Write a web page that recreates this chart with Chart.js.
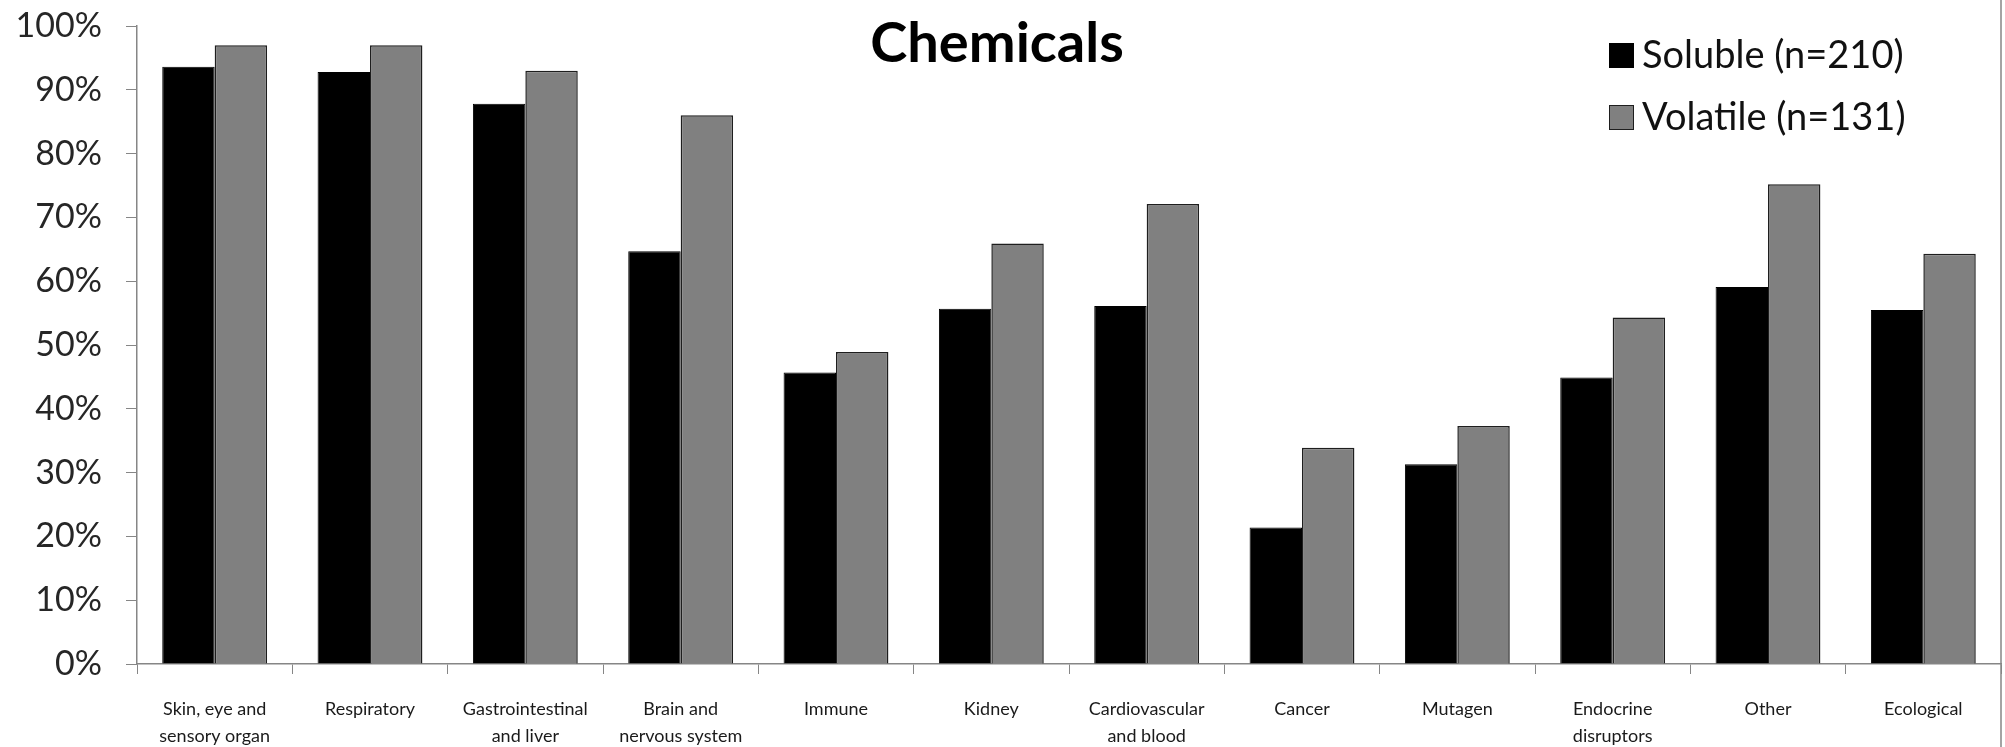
<!DOCTYPE html>
<html lang="en">

<head>
    <meta charset="UTF-8">
    <title>Chemicals</title>
    <style>
        body {
            margin: 0;
            background-color: #ffffff;
        }

        #chemChart {
            display: block;
        }
    </style>
</head>

<body>

    <canvas id="chemChart" width="2005" height="747"></canvas>

    <script src="https://cdn.jsdelivr.net/npm/chart.js"></script>
    <script>
        // Share of chemicals with each kind of health effect (%)
        const categories = [
            ['Skin, eye and', 'sensory organ'],
            'Respiratory',
            ['Gastrointestinal', 'and liver'],
            ['Brain and', 'nervous system'],
            'Immune',
            'Kidney',
            ['Cardiovascular', 'and blood'],
            'Cancer',
            'Mutagen',
            ['Endocrine', 'disruptors'],
            'Other',
            'Ecological'
        ];
        const solubleValues = [93.6, 92.8, 87.8, 64.7, 45.7, 55.7, 56.1, 21.4, 31.3, 44.9, 59.1, 55.5];
        const volatileValues = [97.0, 97.0, 93.0, 86.0, 48.9, 65.9, 72.1, 33.9, 37.3, 54.3, 75.2, 64.3];
        const seriesLabels = ['Soluble (n=210)', 'Volatile (n=131)'];
        const titleText = 'Chemicals';

        const axisColor = '#868686';

        // Title and legend sit inside the plot area, so draw them by hand
        const overlay = {
            id: 'overlay',
            afterDraw(chart) {
                const ctx = chart.ctx;
                ctx.save();

                ctx.font = 'bold 56px Lato';
                ctx.fillStyle = '#000';
                ctx.textAlign = 'center';
                ctx.textBaseline = 'alphabetic';
                ctx.fillText(titleText, 997, 62);

                ctx.font = '38px Lato';
                ctx.textAlign = 'left';
                ctx.textBaseline = 'middle';
                chart.data.datasets.forEach((ds, i) => {
                    const y = 55 + i * 62;
                    ctx.fillStyle = ds.backgroundColor;
                    ctx.fillRect(1609, y - 12, 25, 25);
                    ctx.strokeStyle = ds.borderColor;
                    ctx.lineWidth = 1;
                    ctx.strokeRect(1609.5, y - 11.5, 24, 24);
                    ctx.fillStyle = '#111';
                    ctx.fillText(ds.label, 1642, y + 1);
                });

                // outer frame edge on the right
                ctx.strokeStyle = axisColor;
                ctx.lineWidth = 1.5;
                ctx.beginPath();
                ctx.moveTo(2001, 0);
                ctx.lineTo(2001, chart.height);
                ctx.stroke();

                ctx.restore();
            }
        };

        const ctx = document.getElementById('chemChart').getContext('2d');
        new Chart(ctx, {
            type: 'bar',
            data: {
                labels: categories,
                datasets: [{
                    label: seriesLabels[0],
                    data: solubleValues,
                    backgroundColor: '#000000',
                    borderColor: '#000000',
                    borderWidth: 1
                }, {
                    label: seriesLabels[1],
                    data: volatileValues,
                    backgroundColor: '#808080',
                    borderColor: '#1e1e1e',
                    borderWidth: 1.5
                }]
            },
            options: {
                responsive: false,
                animation: false,
                datasets: {
                    bar: {
                        categoryPercentage: 0.675,
                        barPercentage: 1.0
                    }
                },
                layout: {
                    padding: { top: 26, right: 4, left: 0, bottom: 0 }
                },
                plugins: {
                    legend: { display: false },
                    title: { display: false },
                    tooltip: { enabled: false }
                },
                scales: {
                    x: {
                        grid: {
                            offset: true,
                            drawOnChartArea: false,
                            tickLength: 10,
                            color: axisColor
                        },
                        border: { color: axisColor, width: 1.5 },
                        ticks: {
                            autoSkip: false,
                            maxRotation: 0,
                            padding: 22,
                            color: '#1a1a1a',
                            font: { family: 'Lato', size: 18, lineHeight: 1.5 }
                        },
                        afterFit(scale) {
                            scale.height = 83;
                        }
                    },
                    y: {
                        min: 0,
                        max: 100,
                        grid: {
                            drawOnChartArea: false,
                            tickLength: 11,
                            color: axisColor
                        },
                        border: { color: axisColor, width: 1.5 },
                        ticks: {
                            stepSize: 10,
                            padding: 24,
                            color: '#262626',
                            font: { family: 'Lato', size: 34 },
                            callback: value => value + '%'
                        },
                        afterFit(scale) {
                            // fixed axis width; label padding should not push the plot down
                            scale.width = 137;
                            scale.paddingTop = 0;
                            scale.paddingBottom = 0;
                        }
                    }
                }
            },
            plugins: [overlay]
        });
    </script>
</body>

</html>
